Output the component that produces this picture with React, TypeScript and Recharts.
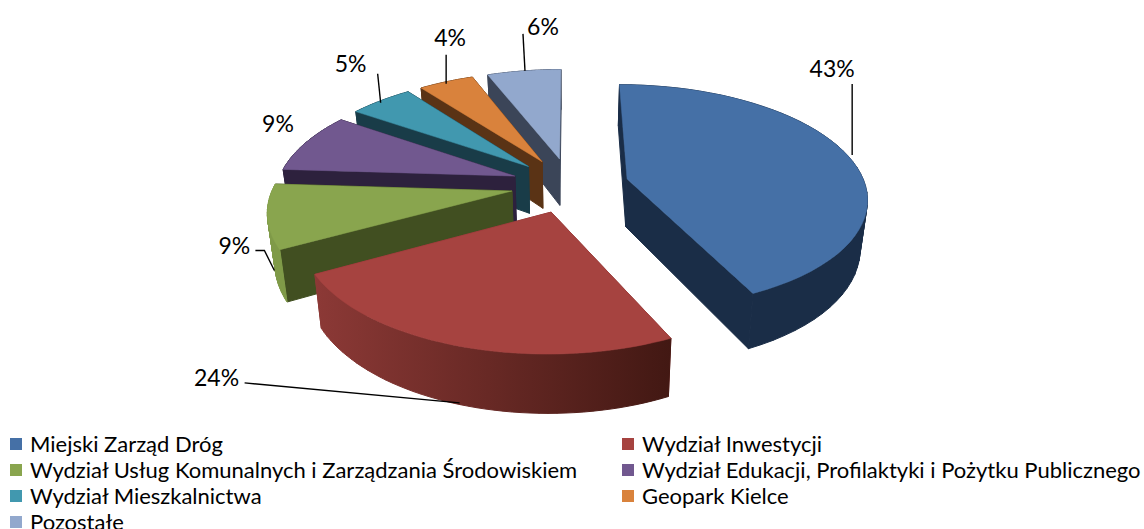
import React from "react";
import { PieChart, Pie, Legend } from "recharts";

// reversed at draw time so the back slices are painted first
const categories = [
  "Miejski Zarząd Dróg",
  "Wydział Inwestycji",
  "Wydział Usług Komunalnych i Zarządzania Środowiskiem",
  "Wydział Edukacji, Profilaktyki i Pożytku Publicznego",
  "Wydział Mieszkalnictwa",
  "Geopark Kielce",
  "Pozostałe",
];
const shares = [43, 24, 9, 8.6, 5.1, 4.4, 5.9];
const topColors = ["#4570a6", "#a64340", "#89a54e", "#71588f", "#4198af", "#d9823c", "#92a8cd"];
const sideColors = ["#1a2d47", "#8c3936", "#414f21", "#2d213d", "#193c48", "#5a3315", "#3b4558"];
const rimColorsLeft = ["#1a2d47", "#8c3936", "#7f9a48", "#2d213d", "#193c48", "#5a3315", "#3b4558"];
const rimColorsRight = ["#1a2d47", "#421813", "#7f9a48", "#2d213d", "#193c48", "#5a3315", "#3b4558"];

// [label dx, label dy] and leader points, all relative to the slice's rim point
const labelOffsets = [
  [-16, -88],
  [-241, 31],
  [-33, 29],
  [-28, -20],
  [-30, -38],
  [4, -45],
  [19, -45],
];
const leaders: number[][][] = [
  [[4, -1], [4, -72]],
  [[2, 57], [-213, 37]],
  [[7, 54], [-3, 34], [-12, 34]],
  [],
  [[0, 2], [-3, -27]],
  [[0, 2], [0, -27]],
  [[1, 0], [-1, -37]],
];

const W = 1144;
const H = 529;
const CX = 570;
const CY = 185;
const RADIUS = 238;
const SQUASH = 0.465;
const EXPLODE = 0.248;
const VIEW_DIST = 6.47;
const DEPTH = 48;
const BASE_SHRINK = 0.975;
const RAD = Math.PI / 180;

const table = categories
  .map((name, i) => ({ name, value: shares[i], fill: topColors[i], idx: i }))
  .reverse();

// plane position (radius = 1) to screen, with a bit of perspective
function project(u: number, v: number, cx: number, cy: number, r: number, base = false) {
  const w = 1 / (1 - v / VIEW_DIST);
  const x = u * r * w;
  const y = v * r * SQUASH * w;
  return base
    ? [cx + x * BASE_SHRINK, cy + y + DEPTH * w]
    : [cx + x, cy + y];
}

function rimPoint(angle: number, mid: number, cx: number, cy: number, r: number, base = false) {
  const u = Math.cos(mid * RAD) * EXPLODE + Math.cos(angle * RAD);
  const v = -Math.sin(mid * RAD) * EXPLODE - Math.sin(angle * RAD);
  return project(u, v, cx, cy, r, base);
}

const toPath = (pts: number[][]) =>
  "M" + pts.map((p) => p[0].toFixed(1) + "," + p[1].toFixed(1)).join("L") + "Z";

// one sub-path per wall segment, all wound the same way so overlaps stay filled
function wallPath(top: number[][], base: number[][]) {
  let d = "";
  for (let i = 0; i < top.length - 1; i++) {
    const quad = [top[i], top[i + 1], base[i + 1], base[i]];
    let area = 0;
    quad.forEach((p, k) => {
      const q = quad[(k + 1) % 4];
      area += p[0] * q[1] - q[0] * p[1];
    });
    d += toPath(area > 0 ? quad : [...quad].reverse());
  }
  return d;
}

function Slice3D(props: any) {
  const { cx, cy, outerRadius, startAngle, endAngle, payload } = props;
  const idx = payload?.idx ?? props.idx;
  const a0 = Math.min(startAngle, endAngle);
  const a1 = Math.max(startAngle, endAngle);
  const mid = (a0 + a1) / 2;
  const r = outerRadius;
  const steps = 48;
  const top: number[][] = [];
  const base: number[][] = [];
  for (let i = 0; i <= steps; i++) {
    const a = a0 + ((a1 - a0) * i) / steps;
    top.push(rimPoint(a, mid, cx, cy, r));
    base.push(rimPoint(a, mid, cx, cy, r, true));
  }
  const apexU = Math.cos(mid * RAD) * EXPLODE;
  const apexV = -Math.sin(mid * RAD) * EXPLODE;
  const apexTop = project(apexU, apexV, cx, cy, r);
  const apexBase = project(apexU, apexV, cx, cy, r, true);
  const gid = "rim-" + idx;
  const xs = top.map((p) => p[0]);
  const side = sideColors[idx];
  return (
    <g>
      <defs>
        <linearGradient id={gid} gradientUnits="userSpaceOnUse" x1={Math.min(...xs)} y1={0} x2={Math.max(...xs)} y2={0}>
          <stop offset="0%" stopColor={rimColorsLeft[idx]} />
          <stop offset="100%" stopColor={rimColorsRight[idx]} />
        </linearGradient>
      </defs>
      <path d={toPath([apexTop, top[0], base[0], apexBase])} fill={side} stroke={side} strokeWidth={1} />
      <path d={toPath([apexTop, top[steps], base[steps], apexBase])} fill={side} stroke={side} strokeWidth={1} />
      <path d={wallPath(top, base)} fill={`url(#${gid})`} stroke={`url(#${gid})`} strokeWidth={1} />
      <path d={toPath([apexTop, ...top])} fill={topColors[idx]} stroke={topColors[idx]} strokeWidth={0.5} />
    </g>
  );
}

function SliceLabel(props: any) {
  const { cx, cy, outerRadius, midAngle, payload } = props;
  const idx = payload?.idx ?? props.idx;
  const [x, y] = rimPoint(midAngle, midAngle, cx, cy, outerRadius);
  const [dx, dy] = labelOffsets[idx];
  return (
    <text x={x + dx} y={y + dy} textAnchor="middle" dominantBaseline="central" fill="#000" fontFamily="Lato" fontSize={23}>
      {Math.round(shares[idx])}%
    </text>
  );
}

function SliceLeader(props: any) {
  const { cx, cy, outerRadius, midAngle, payload } = props;
  const idx = payload?.idx ?? props.idx;
  const [x, y] = rimPoint(midAngle, midAngle, cx, cy, outerRadius);
  const pts = leaders[idx];
  if (!pts.length) return <g />;
  return (
    <polyline
      points={pts.map((p) => `${x + p[0]},${y + p[1]}`).join(" ")}
      fill="none"
      stroke="#000"
      strokeWidth={1.4}
    />
  );
}

function LegendBlock({ payload }: any) {
  const items = [...(payload ?? [])].sort(
    (a: any, b: any) => categories.indexOf(a.value) - categories.indexOf(b.value)
  );
  return (
    <div style={{ display: "grid", gridTemplateColumns: "612px 1fr", gridAutoRows: "26px", paddingLeft: 10, fontFamily: "Lato", fontSize: 22, lineHeight: "26px", color: "#000", whiteSpace: "nowrap" }}>
      {items.map((it: any) => (
        <div key={it.value} style={{ display: "flex", alignItems: "center" }}>
          <span style={{ width: 12, height: 12, background: it.color, marginRight: 8, flex: "none" }} />
          <span>{it.value}</span>
        </div>
      ))}
    </div>
  );
}

export default function App() {
  return (
    <div style={{ position: "absolute", left: 0, top: 0, width: W, height: H, background: "#fff" }}>
      <PieChart width={W} height={H} margin={{ top: 0, right: 0, bottom: 0, left: 0 }}>
        <Pie
          data={table}
          dataKey="value"
          nameKey="name"
          cx={CX}
          cy={CY}
          outerRadius={RADIUS}
          startAngle={-270}
          endAngle={90}
          stroke="none"
          isAnimationActive={false}
          shape={Slice3D}
          label={SliceLabel}
          labelLine={SliceLeader}
        />
        <Legend content={LegendBlock} wrapperStyle={{ left: 0, top: 431, bottom: "auto", width: W }} />
      </PieChart>
    </div>
  );
}
